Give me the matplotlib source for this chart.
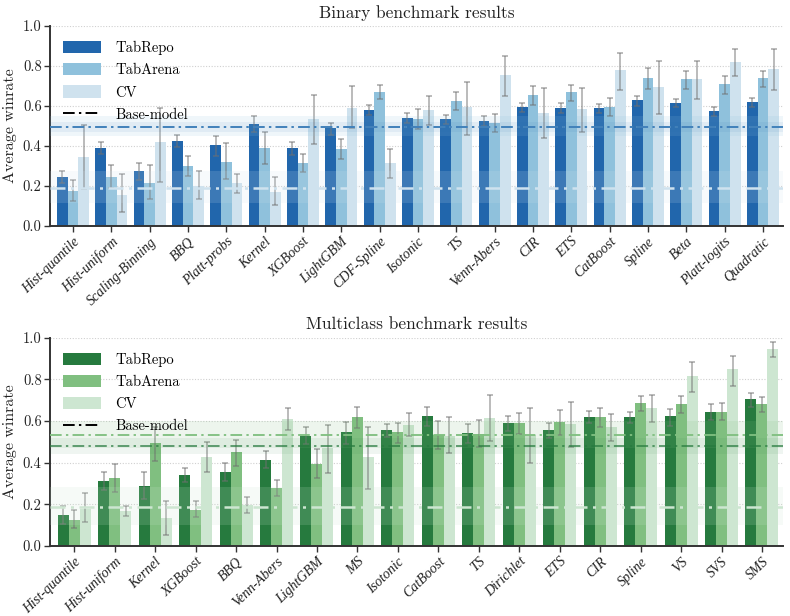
import matplotlib
matplotlib.use("Agg")
import matplotlib.pyplot as plt
from matplotlib.patches import Patch
from matplotlib.lines import Line2D
import numpy as np

plt.rcParams['font.family'] = ['cmr10', 'DejaVu Serif']
plt.rcParams['mathtext.fontset'] = 'cm'
plt.rcParams['axes.formatter.use_mathtext'] = True
plt.rcParams['axes.unicode_minus'] = False

# ---------------- Binary data ----------------
cats_bin = ["Hist-quantile", "Hist-uniform", "Scaling-Binning", "BBQ", "Platt-probs", "Kernel",
            "XGBoost", "LightGBM", "CDF-Spline", "Isotonic", "TS", "Venn-Abers", "CIR", "ETS",
            "CatBoost", "Spline", "Beta", "Platt-logits", "Quadratic"]
bin_repo = [0.247, 0.39, 0.275, 0.425, 0.405, 0.51, 0.39, 0.49, 0.58, 0.54, 0.535, 0.525, 0.595, 0.59, 0.59, 0.63, 0.615, 0.575, 0.62]
bin_repo_lo = [0.217, 0.36, 0.23, 0.397, 0.352, 0.468, 0.355, 0.457, 0.553, 0.513, 0.508, 0.502, 0.568, 0.565, 0.565, 0.6, 0.595, 0.552, 0.597]
bin_repo_hi = [0.277, 0.422, 0.315, 0.457, 0.452, 0.55, 0.42, 0.517, 0.605, 0.563, 0.557, 0.552, 0.615, 0.613, 0.61, 0.652, 0.637, 0.597, 0.638]
bin_arena = [0.177, 0.245, 0.215, 0.30, 0.32, 0.39, 0.315, 0.383, 0.67, 0.535, 0.625, 0.515, 0.655, 0.67, 0.595, 0.74, 0.735, 0.71, 0.74]
bin_arena_lo = [0.125, 0.19, 0.137, 0.25, 0.233, 0.31, 0.268, 0.335, 0.633, 0.485, 0.578, 0.468, 0.603, 0.625, 0.55, 0.683, 0.683, 0.662, 0.697]
bin_arena_hi = [0.23, 0.307, 0.303, 0.348, 0.417, 0.47, 0.36, 0.433, 0.707, 0.585, 0.67, 0.562, 0.7, 0.707, 0.642, 0.792, 0.773, 0.75, 0.777]
bin_cv = [0.347, 0.157, 0.42, 0.2, 0.215, 0.17, 0.535, 0.59, 0.315, 0.58, 0.595, 0.755, 0.565, 0.585, 0.78, 0.695, 0.735, 0.82, 0.785]
bin_cv_lo = [0.183, 0.07, 0.22, 0.137, 0.167, 0.105, 0.408, 0.49, 0.238, 0.507, 0.455, 0.648, 0.44, 0.47, 0.682, 0.558, 0.633, 0.748, 0.682]
bin_cv_hi = [0.505, 0.258, 0.588, 0.277, 0.262, 0.243, 0.657, 0.702, 0.387, 0.652, 0.722, 0.852, 0.692, 0.692, 0.863, 0.823, 0.823, 0.887, 0.887]
# base-model reference: (mean, band low, band high)
bin_base_repo = (0.495, 0.468, 0.52)
bin_base_arena = (0.497, 0.45, 0.55)
bin_base_cv = (0.188, 0.113, 0.275)

# ---------------- Multiclass data ----------------
cats_mc = ["Hist-quantile", "Hist-uniform", "Kernel", "XGBoost", "BBQ", "Venn-Abers", "LightGBM", "MS",
           "Isotonic", "CatBoost", "TS", "Dirichlet", "ETS", "CIR", "Spline", "VS", "SVS", "SMS"]
mc_repo = [0.149, 0.312, 0.288, 0.34, 0.355, 0.412, 0.528, 0.545, 0.555, 0.622, 0.54, 0.588, 0.555, 0.617, 0.617, 0.622, 0.645, 0.703]
mc_repo_lo = [0.107, 0.269, 0.224, 0.305, 0.31, 0.372, 0.488, 0.491, 0.525, 0.577, 0.496, 0.55, 0.52, 0.591, 0.591, 0.577, 0.606, 0.668]
mc_repo_hi = [0.194, 0.356, 0.353, 0.375, 0.399, 0.458, 0.571, 0.596, 0.585, 0.666, 0.587, 0.623, 0.591, 0.647, 0.645, 0.658, 0.679, 0.734]
mc_arena = [0.126, 0.326, 0.493, 0.175, 0.45, 0.278, 0.394, 0.617, 0.545, 0.533, 0.536, 0.588, 0.593, 0.617, 0.684, 0.679, 0.645, 0.679]
mc_arena_lo = [0.086, 0.261, 0.41, 0.137, 0.383, 0.238, 0.324, 0.568, 0.496, 0.464, 0.474, 0.537, 0.533, 0.571, 0.649, 0.636, 0.606, 0.641]
mc_arena_hi = [0.175, 0.391, 0.572, 0.215, 0.51, 0.315, 0.463, 0.666, 0.591, 0.601, 0.606, 0.637, 0.653, 0.661, 0.719, 0.719, 0.688, 0.715]
mc_cv = [0.178, 0.17, 0.135, 0.428, 0.199, 0.607, 0.472, 0.428, 0.579, 0.526, 0.612, 0.53, 0.583, 0.569, 0.66, 0.817, 0.851, 0.946]
mc_cv_lo = [0.113, 0.145, 0.054, 0.356, 0.16, 0.556, 0.348, 0.275, 0.526, 0.445, 0.502, 0.396, 0.477, 0.504, 0.595, 0.741, 0.768, 0.906]
mc_cv_hi = [0.253, 0.194, 0.216, 0.498, 0.235, 0.661, 0.58, 0.572, 0.637, 0.62, 0.723, 0.663, 0.692, 0.633, 0.723, 0.882, 0.909, 0.979]
mc_base_repo = (0.48, 0.44, 0.52)
mc_base_arena = (0.533, 0.47, 0.60)
mc_base_cv = (0.189, 0.102, 0.285)

series_names = ["TabRepo", "TabArena", "CV"]
blues = ["#2166ac", "#8fc1dc", "#cfe2ee"]
greens = ["#267a3e", "#80bf80", "#cde6d1"]

TXT = "#222222"


def draw(ax, cats, vals, los, his, bases, colors, title, bw):
    n = len(cats)
    x = np.arange(n)
    ax.set_axisbelow(True)
    ax.yaxis.grid(True, linestyle=(0, (1, 1.5)), color="#d0d0d0", linewidth=0.8)
    for k in range(3):
        v = np.array(vals[k]); lo = np.array(los[k]); hi = np.array(his[k])
        xs = x + (k - 1) * bw
        ax.bar(xs, v, width=bw, color=colors[k], zorder=2, linewidth=0)
        ax.errorbar(xs, v, yerr=[v - lo, hi - v], fmt="none", ecolor="#707070", alpha=0.6,
                    elinewidth=1.1, capsize=2.3, capthick=1.1, zorder=3)
    # base-model bands and lines (drawn over bars)
    band_alpha = [0.07, 0.14, 0.16]
    order = [2, 1, 0]
    for k in order:
        m, lo, hi = bases[k]
        ax.axhspan(lo, hi, color=colors[k], alpha=band_alpha[k], linewidth=0, zorder=4)
    line_alpha = [0.7, 0.95, 1.0]
    lws = [1.4, 1.4, 1.8]
    for k in order:
        m, lo, hi = bases[k]
        ax.axhline(m, color=colors[k], linestyle=(0, (6, 2.2, 1.2, 2.2)), linewidth=lws[k],
                   alpha=line_alpha[k], zorder=5)
    ax.set_xlim(-0.6, n - 0.48)
    ax.set_ylim(0, 1.0)
    ax.set_yticks([0.0, 0.2, 0.4, 0.6, 0.8, 1.0])
    ax.set_yticklabels(["0.0", "0.2", "0.4", "0.6", "0.8", "1.0"], fontsize=10.5, color=TXT)
    ax.set_xticks(x)
    ax.set_xticklabels(cats, rotation=44, ha="right", rotation_mode="anchor",
                       fontsize=10.1, color=TXT, family="Liberation Serif", style="italic")
    ax.set_ylabel("Average winrate", fontsize=11.5, color=TXT, labelpad=4)
    ax.set_title(title, fontsize=12.5, color=TXT, pad=6)
    for s in ["top", "right"]:
        ax.spines[s].set_visible(False)
    for s in ["left", "bottom"]:
        ax.spines[s].set_linewidth(1.4)
        ax.spines[s].set_color("#333333")
    ax.tick_params(axis="both", length=4, width=1.0, color="#333333", pad=2)
    ax.tick_params(axis="x", pad=2.5)
    handles = [Patch(facecolor=colors[k], label=series_names[k]) for k in range(3)]
    handles.append(Line2D([0], [0], color="black", linestyle=(0, (6, 2.2, 1.2, 2.2)), linewidth=1.4,
                          label="Base-model"))
    ax.legend(handles=handles, loc="upper left", frameon=False, fontsize=10.5,
              handlelength=2.6, handleheight=0.9, labelspacing=0.55, handletextpad=1.0,
              bbox_to_anchor=(0.0, 0.99))


fig = plt.figure(figsize=(7.9, 6.16), dpi=100)
ax1 = fig.add_axes([50 / 790, 1 - 226 / 616, 733 / 790, 200 / 616])
ax2 = fig.add_axes([50 / 790, 1 - 546 / 616, 733 / 790, 208.5 / 616])

draw(ax1, cats_bin, [bin_repo, bin_arena, bin_cv], [bin_repo_lo, bin_arena_lo, bin_cv_lo],
     [bin_repo_hi, bin_arena_hi, bin_cv_hi], [bin_base_repo, bin_base_arena, bin_base_cv],
     blues, "Binary benchmark results", 0.28)
draw(ax2, cats_mc, [mc_repo, mc_arena, mc_cv], [mc_repo_lo, mc_arena_lo, mc_cv_lo],
     [mc_repo_hi, mc_arena_hi, mc_cv_hi], [mc_base_repo, mc_base_arena, mc_base_cv],
     greens, "Multiclass benchmark results", 0.272)

fig.savefig("out.png", dpi=100)
